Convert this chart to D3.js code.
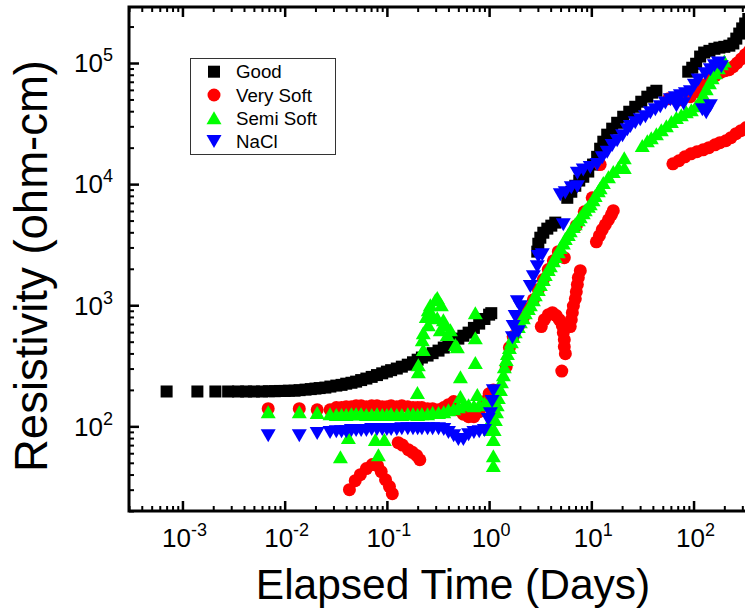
<!DOCTYPE html>
<html>
<head>
<meta charset="utf-8">
<script src="https://cdn.jsdelivr.net/npm/d3@7/dist/d3.min.js"></script>
<style>
  html, body { margin: 0; padding: 0; background: #fff; }
  svg { display: block; font-family: Arial, "Liberation Sans", sans-serif; }
</style>
</head>
<body>
<svg id="chart" width="745" height="614"></svg>
<script>
// Resistivity vs elapsed time, [days, ohm-cm]
const good = [
  [0.0007,194],[0.0014,194],[0.0021,194],[0.0028,194],[0.0035,194],[0.0042,194],[0.005,194],[0.006,194],
  [0.007,195],[0.008,195],[0.009,196],[0.01,196],[0.011,197],[0.0125,197],[0.014,199],[0.016,201],
  [0.018,203],[0.02,205],[0.022,207],[0.025,209],[0.028,213],[0.032,217],[0.036,220],[0.04,225],
  [0.045,229],[0.05,234],[0.056,241],[0.063,248],[0.071,256],[0.08,265],[0.09,274],[0.1,283],
  [0.11,291],[0.125,300],[0.14,311],[0.16,323],[0.18,338],[0.2,355],[0.22,370],[0.25,384],
  [0.28,402],[0.32,422],[0.36,447],[0.4,473],[0.45,500],[0.5,530],[0.56,560],[0.63,594],
  [0.71,650],[0.8,705],[0.9,770],[1.0,836],[1.05,860],
  [2.96,2770],[3.03,3220],[3.17,3610],[3.39,3970],[3.71,4290],[4.06,4540],[4.44,4810],
  [5.82,7710],[6.37,8650],[6.97,9690],[7.62,10700],[8.34,11500],[9.33,12700],[10.4,14500],
  [11.4,16800],[12.2,19600],[13.1,22400],[14.3,25600],[16.0,28700],[17.9,32100],[20.5,36000],
  [23.5,39600],[26.9,43500],[30.8,47900],[35.3,52700],[39.5,56900],[43.3,59000],
  [88.7,84800],[97.1,91400],[106,98600],[116,113000],[127,122000],[143,126000],[160,131000],
  [179,134000],[200,136000],[224,139000],[245,145000],[262,159000],[280,175000],[299,193000],
  [320,212000],[343,231000]
];

const verySoft = [
  [0.0069,140],[0.0139,140],[0.0208,137],[0.0278,137],[0.032,143],[0.036,143],[0.04,145],[0.045,145],
  [0.05,148],[0.056,148],[0.063,145],[0.071,148],[0.08,148],[0.09,145],[0.1,145],[0.11,148],
  [0.125,145],[0.14,148],[0.16,145],[0.18,143],[0.2,143],[0.22,143],[0.25,140],[0.28,140],
  [0.32,137],[0.36,143],[0.4,151],[0.45,160],[0.5,137],[0.56,126],[0.63,120],[0.71,120],
  [0.8,132],[0.9,160],[1.0,186],
  [0.043,30.0],[0.049,35.6],[0.055,39.9],[0.063,44.8],[0.072,48.3],[0.081,47.4],[0.088,42.3],
  [0.097,36.3],[0.106,31.8],[0.113,27.8],
  [0.129,73.3],[0.142,70.0],[0.162,64.2],[0.178,61.0],[0.195,57.5],[0.21,53.0],
  [1.1,200],[1.47,311],[1.58,447],[1.72,551],[1.93,666],[2.16,789],[2.42,938],[2.71,1110],
  [3.03,1350],[3.39,1630],[3.79,1970],[4.25,2330],[4.75,2770],[5.44,2470],
  [7.13,4540],[8.53,5910],[10.2,7710],[12.2,14500],
  [57.0,50700],[74.3,49800],[93.1,52700],[111,57900],[130,66200],[146,74300],
  [163,78700],[182,83200],[204,86500],[223,88100],[244,93100],[267,100000],[293,108000],
  [320,117000],[351,126000],
  [3.24,666],[3.47,760],[3.80,836],[4.16,868],[4.54,821],[4.86,760],[5.20,678],[5.32,594],
  [5.44,520],[5.44,455],[5.57,398],[5.14,286],
  [6.22,666],[6.37,760],[6.52,868],[6.67,985],[6.97,1130],[7.13,1290],[7.30,1480],[7.46,1690],
  [7.80,1930],
  [11.2,3340],[12.0,3750],[12.8,4210],[13.7,4620],[14.7,5080],[15.7,5580],[16.4,6040],
  [62.8,14700],[71.9,15600],[82.2,16800],[94.2,17800],[108,18500],[124,19200],[141,20000],
  [162,21100],[181,22000],[207,22800],[232,24200],[260,26100],[291,27600],[326,29200]
];

const semiSoft = [
  [0.0069,132],[0.0139,132],[0.0208,130],[0.0278,127],[0.032,125],[0.036,125],[0.04,125],[0.045,127],
  [0.05,127],[0.056,127],[0.063,125],[0.071,125],[0.08,127],[0.09,125],[0.1,125],[0.11,127],
  [0.125,125],[0.14,125],[0.16,127],[0.18,127],[0.2,125],[0.22,127],[0.25,127],[0.28,130],
  [0.32,130],[0.36,132],[0.4,137],[0.45,140],[0.5,145],[0.56,151],[0.63,151],[0.71,148],
  [0.8,151],[0.9,155],[1.0,160],
  [0.0351,56.2],[0.042,80.7],[0.0771,77.7],[0.0944,77.7],[0.0826,58.4],
  [0.199,190],[0.203,283],[0.203,323],[0.227,430],[0.222,520],[0.243,806],[0.254,919],
  [0.279,836],[0.311,1160],[0.311,789],[0.341,1010],[0.266,1010],[0.298,1110],[0.357,760],
  [0.333,628],[0.373,691],[0.39,572],[0.418,628],[0.468,473],[0.489,455],[0.254,691],
  [0.227,594],[0.524,257],[0.524,176],[0.733,868],[0.733,540],[0.733,336],[0.767,183],
  [1.10,57.3],[1.10,47.4],[1.03,94],[1.05,114],[1.07,137],
  [1.10,77.7],[1.12,94],[1.15,114],[1.18,132],[1.20,151],[1.23,173],[1.29,201],[1.32,234],
  [1.38,267],[1.41,311],[1.47,356],[1.51,399],[1.58,447],[1.65,500],[1.72,551],[1.80,605],
  [1.93,666],[2.02,731],[2.16,789],[2.26,868],[2.42,938],[2.53,1010],[2.71,1110],[2.83,1220],
  [3.03,1350],[3.17,1480],[3.39,1630],[3.54,1790],[3.79,1970],[3.97,2120],[4.25,2330],
  [4.44,2520],[4.75,2770],[4.97,2990],[5.32,3270],[5.56,3550],[5.95,3830],[6.22,4130],
  [6.66,4460],[6.96,4710],[7.45,5080],[7.80,5390],[8.34,5810],[8.72,6150],[9.34,6560],
  [9.76,6890],[10.4,7430],[10.9,8070],[11.7,8830],[12.2,9350],[13.1,10300],
  [14.7,11500],[16.4,12700],[18.4,13700],[21.0,16500],[21.0,13700],
  [31.5,20800],[35.3,22800],[38.6,24200],[43.3,26100],[48.4,28100],[54.2,30400],[60.7,32900],
  [67.9,35400],[75.9,37300],[84.9,39600],[95.1,41100],[106,44400],[116,48900],[124,54700],
  [133,61400],[143,68800],[152,75700],[163,83200],[175,91400],[187,98600],[200,104000]
];

const nacl = [
  [0.0069,83.8],[0.0139,83.8],[0.0208,87.1],[0.0278,88.8],[0.032,90.4],[0.036,90.4],[0.04,90.4],
  [0.045,92.2],[0.05,92.2],[0.056,92.2],[0.063,92.2],[0.071,94],[0.08,94],[0.09,94],[0.1,94],
  [0.11,94],[0.125,94],[0.14,95.7],[0.16,95.7],[0.18,95.7],[0.2,95.7],[0.22,95.7],[0.25,95.7],
  [0.28,95.7],[0.32,95.7],[0.36,94],[0.4,88.8],[0.45,83.8],[0.5,77.7],[0.56,77.7],[0.63,85.4],
  [0.71,89],[0.8,90.4],[0.9,92.2],[0.98,114],[1.03,127],[1.07,160],[1.10,197],
  [1.69,540],[1.72,666],[1.80,806],[1.89,1070],[2.02,973],[1.93,605],[2.53,1430],[2.71,1720],
  [2.96,2080],[3.03,2520],[3.31,2610],[5.32,4620],[4.97,8170],[5.56,8490],[6.37,9350],
  [7.30,9520],[7.30,12300],[8.34,13100],[9.76,13700],[11.4,14500],[12.8,16500],[14.3,18300],
  [16.0,20800],[17.9,22800],[20.2,25100],[22.5,28100],[24.1,29900],[26.9,32100],[30.1,34000],
  [33.8,36000],[37.8,38900],[42.3,41100],[47.3,43500],[53.0,46700],[59.3,49800],[66.4,51700],
  [68,44400],[74.3,53600],[80,46000],[83.2,55800],[93.1,57900],[102,65400],[111,72300],
  [122,41100],[133,38900],[146,44400],[130,81700],[146,88100],[160,94700],[175,100000],
  [187,93100]
];

const xTickValues = [1e-3, 1e-2, 1e-1, 1, 10, 100];
const xTickExponents = ["-3", "-2", "-1", "0", "1", "2"];
const yTickValues = [1e2, 1e3, 1e4, 1e5];
const yTickExponents = ["2", "3", "4", "5"];
const seriesNames = ["Good", "Very Soft", "Semi Soft", "NaCl"];
const seriesColors = ["#000000", "#ff0000", "#00ff00", "#0000ff"];

const svg = d3.select("#chart");
const frame = { left: 129, top: 7, right: 765, bottom: 511 };

const x = d3.scaleLog().domain([3e-4, 500]).range([frame.left, frame.right]);
const y = d3.scaleLog().domain([20, 2.9e5]).range([frame.bottom, frame.top]);

// minor ticks at 2..9 of each decade inside the domain
function minorTicks(scale) {
  const [a, b] = scale.domain();
  const out = [];
  for (let e = Math.floor(Math.log10(a)); e <= Math.ceil(Math.log10(b)); e++) {
    for (let m = 2; m <= 9; m++) {
      const v = m * Math.pow(10, e);
      if (v >= a && v <= b) out.push(v);
    }
  }
  return out;
}

svg.append("clipPath").attr("id", "plotClip")
  .append("rect")
  .attr("x", frame.left).attr("y", frame.top)
  .attr("width", frame.right - frame.left).attr("height", frame.bottom - frame.top);

// marker shapes: square, circle, up and down triangles
const markerShapes = {
  square: g => g.append("rect").attr("x", -6).attr("y", -6).attr("width", 12).attr("height", 12),
  circle: g => g.append("circle").attr("r", 6.5),
  up: g => g.append("path").attr("d", "M0,-6.5L7.5,6.5L-7.5,6.5Z"),
  down: g => g.append("path").attr("d", "M0,6.5L7.5,-6.5L-7.5,-6.5Z")
};
const seriesData = [good, verySoft, semiSoft, nacl];
const seriesShapes = ["square", "circle", "up", "down"];

const marks = svg.append("g").attr("clip-path", "url(#plotClip)");
seriesData.forEach((data, i) => {
  const g = marks.append("g").attr("fill", seriesColors[i]);
  data.forEach(d => {
    const m = g.append("g").attr("transform", `translate(${x(d[0])},${y(d[1])})`);
    markerShapes[seriesShapes[i]](m);
  });
});

// axes with inward ticks
function styleAxis(sel) {
  sel.select(".domain").remove();
  sel.selectAll("line").attr("stroke", "#000");
}
const tickW = 2.5, minorW = 2;
svg.append("g").attr("transform", `translate(0,${frame.bottom})`)
  .call(d3.axisBottom(x).tickValues(xTickValues).tickSize(-10).tickFormat(""))
  .call(styleAxis).selectAll("line").attr("stroke-width", tickW);
svg.append("g").attr("transform", `translate(0,${frame.bottom})`)
  .call(d3.axisBottom(x).tickValues(minorTicks(x)).tickSize(-5).tickFormat(""))
  .call(styleAxis).selectAll("line").attr("stroke-width", minorW);
svg.append("g").attr("transform", `translate(0,${frame.top})`)
  .call(d3.axisTop(x).tickValues(xTickValues).tickSize(-10).tickFormat(""))
  .call(styleAxis).selectAll("line").attr("stroke-width", tickW);
svg.append("g").attr("transform", `translate(0,${frame.top})`)
  .call(d3.axisTop(x).tickValues(minorTicks(x)).tickSize(-5).tickFormat(""))
  .call(styleAxis).selectAll("line").attr("stroke-width", minorW);
svg.append("g").attr("transform", `translate(${frame.left},0)`)
  .call(d3.axisLeft(y).tickValues(yTickValues).tickSize(-10).tickFormat(""))
  .call(styleAxis).selectAll("line").attr("stroke-width", tickW);
svg.append("g").attr("transform", `translate(${frame.left},0)`)
  .call(d3.axisLeft(y).tickValues(minorTicks(y)).tickSize(-5).tickFormat(""))
  .call(styleAxis).selectAll("line").attr("stroke-width", minorW);

svg.append("rect")
  .attr("x", frame.left).attr("y", frame.top)
  .attr("width", frame.right - frame.left).attr("height", frame.bottom - frame.top)
  .attr("fill", "none").attr("stroke", "#000").attr("stroke-width", 3);

// tick labels as 10 with a raised exponent
xTickValues.forEach((v, i) => {
  const t = svg.append("text")
    .attr("x", x(v) + 2).attr("y", 547)
    .attr("text-anchor", "middle").attr("font-size", 26).attr("fill", "#000");
  t.append("tspan").text("10");
  t.append("tspan").attr("font-size", 18).attr("dy", -11).text(xTickExponents[i]);
});
yTickValues.forEach((v, i) => {
  const t = svg.append("text")
    .attr("x", 113).attr("y", y(v) + 9.3)
    .attr("text-anchor", "end").attr("font-size", 26).attr("fill", "#000");
  t.append("tspan").text("10");
  t.append("tspan").attr("font-size", 18).attr("dy", -11).text(yTickExponents[i]);
});

// axis titles
svg.append("text")
  .attr("x", 453).attr("y", 599)
  .attr("text-anchor", "middle").attr("font-size", 42.5).attr("fill", "#000")
  .text("Elapsed Time (Days)");
svg.append("text")
  .attr("transform", "translate(47,266) rotate(-90)")
  .attr("text-anchor", "middle").attr("font-size", 45.5).attr("fill", "#000")
  .text("Resistivity (ohm-cm)");

// legend
const legend = svg.append("g");
legend.append("rect")
  .attr("x", 190.5).attr("y", 58.5).attr("width", 145).attr("height", 96)
  .attr("fill", "#fff").attr("stroke", "#333").attr("stroke-width", 1);
const rowY = [71.7, 95, 117.8, 141.5];
seriesNames.forEach((name, i) => {
  const m = legend.append("g").attr("fill", seriesColors[i])
    .attr("transform", `translate(214,${rowY[i]})`);
  markerShapes[seriesShapes[i]](m);
  legend.append("text")
    .attr("x", 236).attr("y", rowY[i] + 6.7)
    .attr("font-size", 18.7).attr("fill", "#000")
    .text(name);
});
</script>
</body>
</html>
